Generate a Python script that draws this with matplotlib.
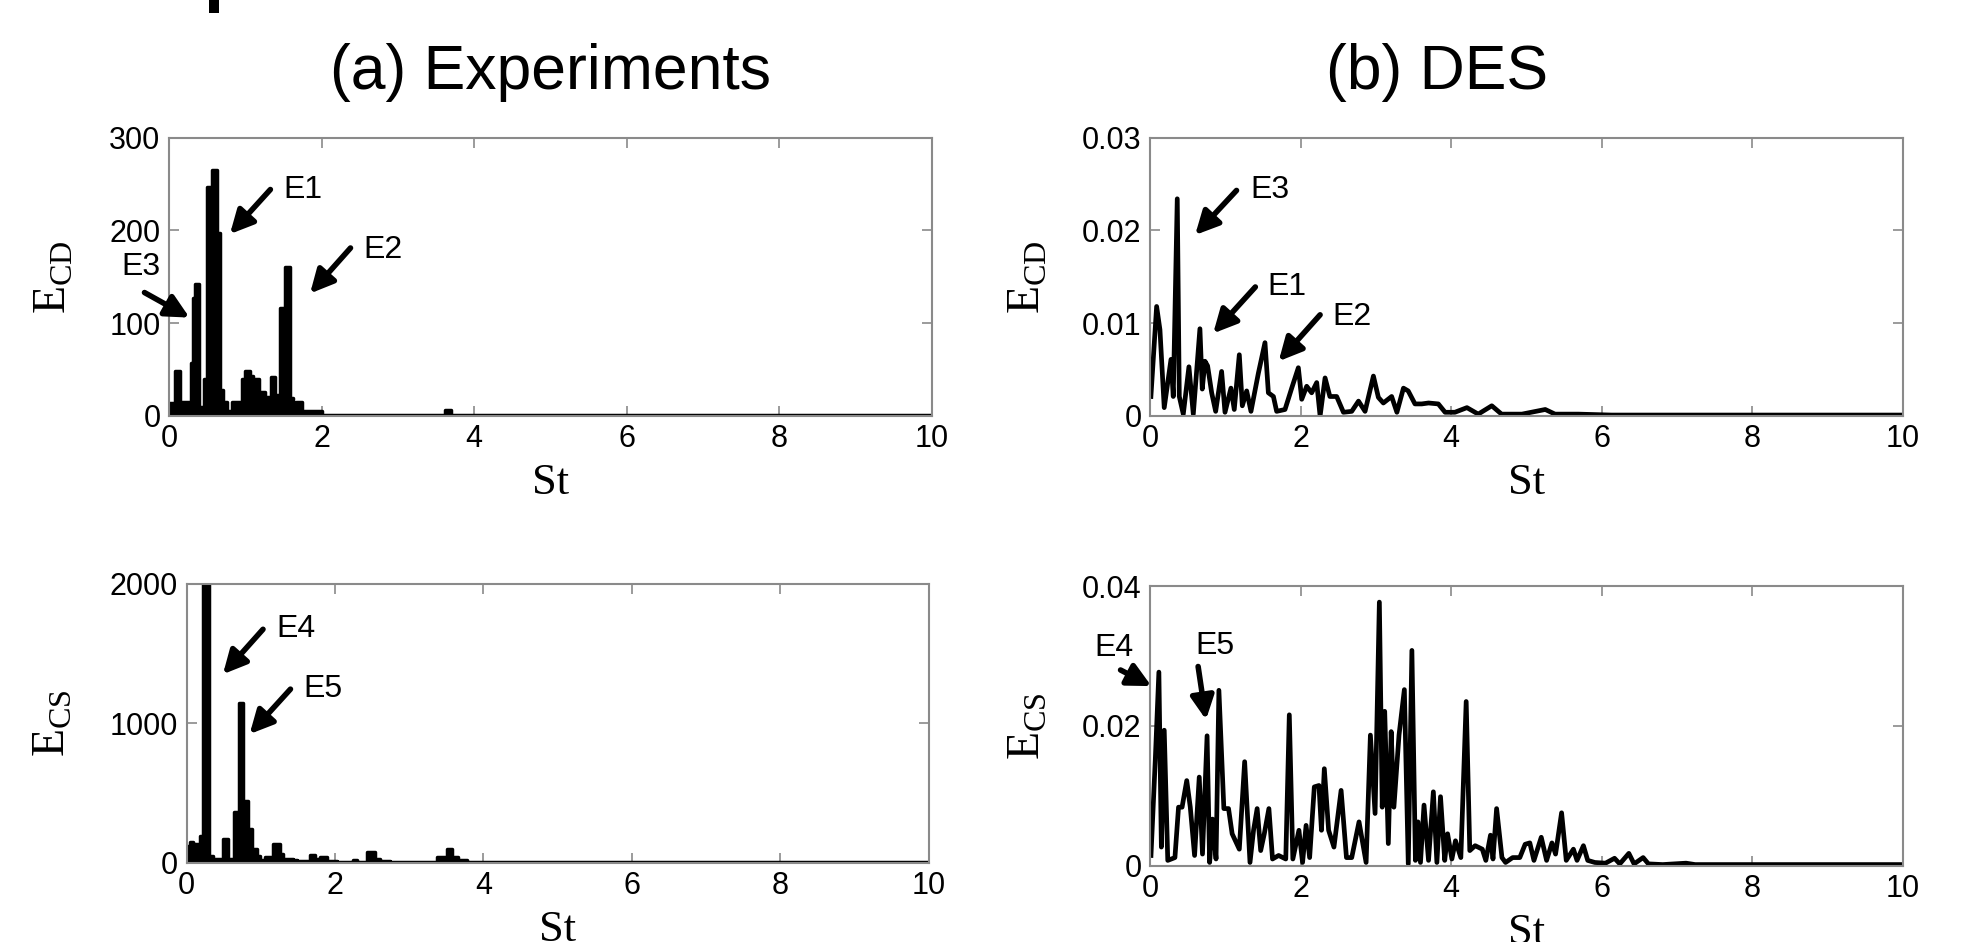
import matplotlib
matplotlib.use("Agg")
import matplotlib.pyplot as plt
from matplotlib.patches import Rectangle

plt.rcParams['font.family'] = ['Liberation Sans', 'DejaVu Sans']
plt.rcParams['mathtext.fontset'] = 'custom'
plt.rcParams['mathtext.rm'] = 'Liberation Serif'

# (a) experiments, E_CD: step edges (St) and level after each edge
st_exp_cd = [0.00, 0.08, 0.145, 0.288, 0.32, 0.34, 0.397, 0.463, 0.493, 0.559, 0.624,
             0.668, 0.712, 0.755, 0.821, 0.961, 0.996, 1.061, 1.105, 1.179, 1.258,
             1.332, 1.397, 1.454, 1.52, 1.59, 1.63, 1.672, 1.738, 2.01, 3.62, 3.70, 10.0]
ecd_exp = [14, 48, 15, 57, 127, 142, 10, 40, 247, 265, 197, 28, 15, 5, 15, 40, 49, 43,
           40, 26, 20, 42, 23, 116, 161, 19, 8, 15, 5, 1, 6, 1, 1]

# (a) experiments, E_CS
st_exp_cs = [0.00, 0.045, 0.081, 0.18, 0.216, 0.306, 0.36, 0.494, 0.562, 0.638, 0.71,
             0.764, 0.831, 0.876, 0.944, 0.989, 1.056, 1.169, 1.258, 1.303, 1.438,
             1.483, 1.663, 1.73, 1.798, 1.888, 2.022, 2.247, 2.292, 2.427, 2.539,
             2.607, 2.742, 3.371, 3.506, 3.573, 3.663, 3.775, 10.0]
ecs_exp = [124, 148, 136, 196, 2000, 52, 29, 172, 29, 363, 1150, 446, 243, 100, 52, 24,
           40, 136, 64, 29, 24, 17, 57, 29, 45, 17, 5, 24, 10, 81, 29, 14, 5, 40, 100,
           40, 24, 5, 5]

# (b) DES, E_CD
st_des_cd = [0.013, 0.089, 0.133, 0.19, 0.28, 0.31, 0.363, 0.39, 0.443, 0.518, 0.576,
             0.664, 0.695, 0.731, 0.766, 0.82, 0.873, 0.952, 0.997, 1.076, 1.12, 1.187,
             1.227, 1.285, 1.342, 1.44, 1.528, 1.573, 1.64, 1.683, 1.794, 1.883, 1.971,
             2.016, 2.082, 2.148, 2.215, 2.26, 2.326, 2.39, 2.48, 2.57, 2.68, 2.77,
             2.857, 2.968, 3.034, 3.1, 3.21, 3.28, 3.367, 3.43, 3.52, 3.61, 3.7, 3.83,
             3.92, 4.05, 4.21, 4.36, 4.54, 4.67, 4.94, 5.25, 5.38, 5.69, 6.13, 7.0, 8.0,
             9.0, 10.0]
ecd_des = [0.0021, 0.0118, 0.0093, 0.0009, 0.0061, 0.0021, 0.0234, 0.0021, 0.0002, 0.0053,
           0.0002, 0.0094, 0.0029, 0.0059, 0.0054, 0.0025, 0.0005, 0.0048, 0.0004, 0.0030,
           0.0007, 0.0066, 0.0011, 0.0027, 0.0005, 0.0046, 0.0079, 0.0025, 0.0021, 0.0005,
           0.0007, 0.0030, 0.0052, 0.0018, 0.0032, 0.0025, 0.0036, 0.0000, 0.0041, 0.0021,
           0.0021, 0.0004, 0.0005, 0.0016, 0.0005, 0.0043, 0.0020, 0.0014, 0.0021, 0.0004,
           0.0030, 0.0027, 0.0013, 0.0013, 0.0014, 0.0013, 0.0004, 0.0004, 0.0009, 0.0002,
           0.0011, 0.0002, 0.0002, 0.0007, 0.0002, 0.0002, 0.0001, 0.0001, 0.0001, 0.0001,
           0.0001]

# (b) DES, E_CS
st_des_cs = [0.014, 0.071, 0.119, 0.152, 0.19, 0.237, 0.285, 0.332, 0.38, 0.427,
             0.489, 0.536, 0.593, 0.655, 0.698, 0.759, 0.793, 0.831, 0.878, 0.916,
             0.982, 1.044, 1.092, 1.187, 1.258, 1.329, 1.376, 1.424, 1.471, 1.519,
             1.58, 1.628, 1.709, 1.804, 1.851, 1.898, 1.979, 2.027, 2.074, 2.121,
             2.183, 2.245, 2.278, 2.316, 2.373, 2.444, 2.539, 2.61, 2.68, 2.777,
             2.871, 2.928, 2.99, 3.047, 3.085, 3.118, 3.166, 3.204, 3.24, 3.308,
             3.379, 3.431, 3.479, 3.526, 3.56, 3.593, 3.64, 3.70, 3.764, 3.811,
             3.859, 3.915, 3.953, 4.01, 4.058, 4.129, 4.2, 4.248, 4.319, 4.414,
             4.461, 4.523, 4.556, 4.604, 4.675, 4.723, 4.817, 4.912, 4.983, 5.045,
             5.10, 5.197, 5.268, 5.339, 5.387, 5.467, 5.529, 5.624, 5.672, 5.757,
             5.814, 5.909, 6.05, 6.17, 6.24, 6.36, 6.43, 6.55, 6.62, 6.81,
             7.12, 7.24, 8.0, 9.0, 10.0]
ecs_des = [0.0015, 0.0151, 0.0277, 0.0027, 0.0194, 0.0008, 0.0010, 0.0012, 0.0084, 0.0084,
           0.0122, 0.0084, 0.0015, 0.0127, 0.0017, 0.0186, 0.0005, 0.0067, 0.0010, 0.0251,
           0.0082, 0.0082, 0.0046, 0.0024, 0.0149, 0.0005, 0.0051, 0.0082, 0.0022, 0.0046,
           0.0082, 0.0010, 0.0015, 0.0010, 0.0216, 0.0010, 0.0051, 0.0005, 0.0058, 0.0012,
           0.0113, 0.0115, 0.0051, 0.0139, 0.0051, 0.0027, 0.0108, 0.0012, 0.0012, 0.0063,
           0.0005, 0.0187, 0.0075, 0.0377, 0.0084, 0.0221, 0.0032, 0.0192, 0.0084, 0.0187,
           0.0252, 0.0003, 0.0308, 0.0008, 0.0063, 0.0005, 0.0087, 0.0008, 0.0106, 0.0005,
           0.0099, 0.0008, 0.0046, 0.0010, 0.0036, 0.0012, 0.0235, 0.0022, 0.0029, 0.0024,
           0.0008, 0.0044, 0.0010, 0.0082, 0.0012, 0.0005, 0.0012, 0.0012, 0.0031, 0.0033,
           0.0008, 0.0041, 0.0008, 0.0033, 0.0017, 0.0076, 0.0008, 0.0024, 0.0008, 0.0029,
           0.0008, 0.0005, 0.0004, 0.0011, 0.0003, 0.0018, 0.0003, 0.0012, 0.0003, 0.0002,
           0.0004, 0.0002, 0.0002, 0.0002, 0.0002]

xticks = [0, 2, 4, 6, 8, 10]
yticks_a_cd = [0, 100, 200, 300]
yticks_a_cs = [0, 1000, 2000]
yticks_b_cd = [0, 0.01, 0.02, 0.03]
yticks_b_cs = [0, 0.02, 0.04]

# peak labels: (text, text St, text value, arrow tail, arrow head)
ann_a_cd = [("E1", 1.50, 243, (1.33, 244), (0.80, 196)),
            ("E2", 2.55, 179, (2.38, 181), (1.85, 132)),
            ("E3", -0.62, 160, (-0.32, 133), (0.27, 106))]
ann_b_cd = [("E3", 1.33, 0.0243, (1.15, 0.0243), (0.60, 0.0195)),
            ("E1", 1.56, 0.0139, (1.40, 0.0139), (0.84, 0.0089)),
            ("E2", 2.42, 0.0107, (2.26, 0.0109), (1.71, 0.0059))]
ann_a_cs = [("E4", 1.21, 1675, (1.03, 1675), (0.49, 1353)),
            ("E5", 1.57, 1246, (1.40, 1246), (0.85, 924))]
ann_b_cs = [("E4", -0.74, 0.0312, (-0.39, 0.0280), (0.02, 0.0257)),
            ("E5", 0.60, 0.0315, (0.64, 0.0285), (0.745, 0.0209))]

fig = plt.figure(figsize=(19.64, 9.42), dpi=100)
ax_a_cd = fig.add_axes([0.0860, 0.5584, 0.3885, 0.2956])
ax_b_cd = fig.add_axes([0.5855, 0.5584, 0.3834, 0.2956])
ax_a_cs = fig.add_axes([0.0950, 0.0839, 0.3778, 0.2962])
ax_b_cs = fig.add_axes([0.5855, 0.0807, 0.3834, 0.2972])

ax_a_cd.fill_between(st_exp_cd, ecd_exp, step='post', color='k', lw=0)
ax_a_cd.step(st_exp_cd, ecd_exp, where='post', color='k', lw=2.5)
ax_a_cs.fill_between(st_exp_cs, ecs_exp, step='post', color='k', lw=0)
ax_a_cs.step(st_exp_cs, ecs_exp, where='post', color='k', lw=2.5)
ax_b_cd.plot(st_des_cd, ecd_des, color='k', lw=3.4)
ax_b_cs.plot(st_des_cs, ecs_des, color='k', lw=3.4)

setup = [(ax_a_cd, yticks_a_cd, r'$\mathrm{E}_{\mathrm{CD}}$', -0.123, -0.17),
         (ax_b_cd, yticks_b_cd, r'$\mathrm{E}_{\mathrm{CD}}$', -0.134, -0.17),
         (ax_a_cs, yticks_a_cs, r'$\mathrm{E}_{\mathrm{CS}}$', -0.151, -0.168),
         (ax_b_cs, yticks_b_cs, r'$\mathrm{E}_{\mathrm{CS}}$', -0.134, -0.168)]
for ax, yt, lab, lx, sx in setup:
    ax.set_xlim(0, 10)
    ax.set_ylim(yt[0], yt[-1])
    ax.set_xticks(xticks)
    ax.set_xticklabels([f"{v:g}" for v in xticks])
    ax.set_yticks(yt)
    ax.set_yticklabels([f"{v:g}" for v in yt])
    ax.tick_params(direction='in', length=7, width=1.2, color='#8a8a8a',
                   top=True, right=True, labelsize=22, pad=6)
    for sp in ax.spines.values():
        sp.set_color('#8a8a8a')
        sp.set_linewidth(1.5)
    ax.set_ylabel(lab, fontsize=33)
    ax.yaxis.set_label_coords(lx, 0.5)
    ax.set_xlabel("St", fontsize=32, family='Liberation Serif')
    ax.xaxis.set_label_coords(0.5, sx)

for ax, anns in [(ax_a_cd, ann_a_cd), (ax_b_cd, ann_b_cd),
                 (ax_a_cs, ann_a_cs), (ax_b_cs, ann_b_cs)]:
    for name, tx, ty, tail, head in anns:
        ax.annotate('', xy=head, xytext=tail, annotation_clip=False,
                    arrowprops=dict(arrowstyle='-|>,head_length=0.7,head_width=0.35',
                                    lw=4, color='k', mutation_scale=20,
                                    shrinkA=0, shrinkB=0))
        ax.text(tx, ty, name, fontsize=23, ha='left', va='center')

fig.text(551 / 1964, 1 - 73 / 942, "(a) Experiments", fontsize=45,
         ha='center', va='center')
fig.text(1437 / 1964, 1 - 73 / 942, "(b) DES", fontsize=45,
         ha='center', va='center')

# fragment of a cut-off glyph at the very top edge
fig.add_artist(Rectangle((209 / 1964, 1 - 13 / 942), 10 / 1964, 13 / 942,
                         transform=fig.transFigure, color='k', lw=0))

fig.savefig("out.png", dpi=100)
